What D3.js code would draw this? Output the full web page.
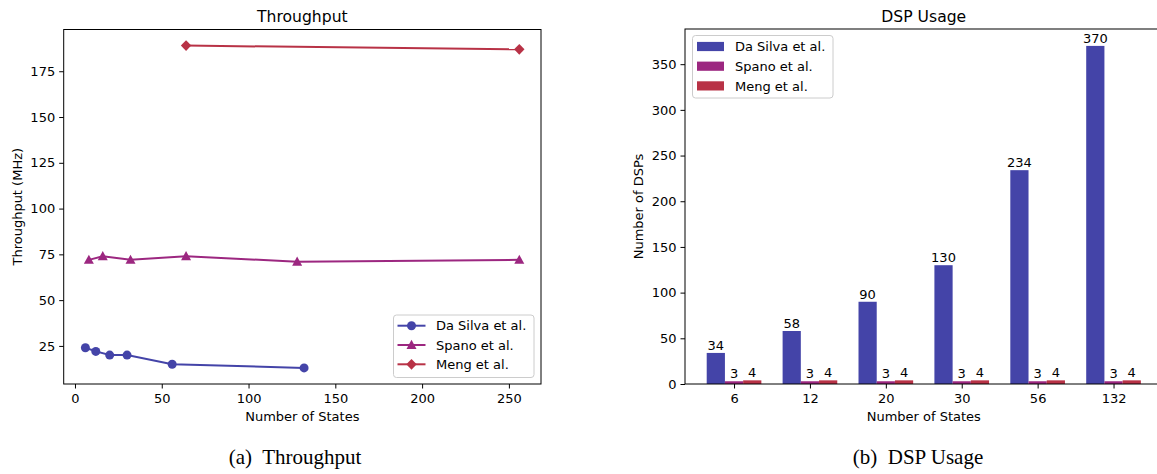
<!DOCTYPE html>
<html><head><meta charset="utf-8">
<script src="https://cdn.jsdelivr.net/npm/d3@7"></script>
<style>
body{margin:0;background:#fff;}
svg{display:block;}
text{font-family:"DejaVu Sans",sans-serif;fill:#000;}
.cap{font-family:"Liberation Serif","Times New Roman",serif;}
</style></head>
<body>
<svg id="c" width="1157" height="474"></svg>
<script>
// ---- data ----
const seriesNames = ["Da Silva et al.", "Spano et al.", "Meng et al."];
const dsStates = [6, 12, 20, 30, 56, 132];
const dsThroughput = [24, 22, 20, 20, 15, 13];
const spStates = [8, 16, 32, 64, 128, 256];
const spThroughput = [72, 74, 72, 74, 71, 72];
const mgStates = [64, 256];
const mgThroughput = [189, 187];
const xTicksLeft = [0, 50, 100, 150, 200, 250];
const yTicksLeft = [25, 50, 75, 100, 125, 150, 175];
const dspCategories = ["6", "12", "20", "30", "56", "132"];
const dsDsp = [34, 58, 90, 130, 234, 370];
const spDsp = [3, 3, 3, 3, 3, 3];
const mgDsp = [4, 4, 4, 4, 4, 4];
const yTicksRight = [0, 50, 100, 150, 200, 250, 300, 350];

const colors = ["#4444a8", "#9c2780", "#b83246"];
const svg = d3.select("#c");

// ---------- Left panel: Throughput ----------
const L = {x0: 63.7, x1: 541, y0: 29.5, y1: 384};
const allX = dsStates.concat(spStates, mgStates), allY = dsThroughput.concat(spThroughput, mgThroughput);
const xmin = d3.min(allX), xmax = d3.max(allX), ymin = d3.min(allY), ymax = d3.max(allY);
const xm = (xmax - xmin) * 0.05, ym = (ymax - ymin) * 0.05;
const xL = d3.scaleLinear().domain([xmin - xm, xmax + xm]).range([L.x0, L.x1]);
const yL = d3.scaleLinear().domain([ymin - ym, ymax + ym]).range([L.y1, L.y0]);

const gl = svg.append("g");
const axB = gl.append("g").attr("transform", `translate(0,${L.y1})`)
  .call(d3.axisBottom(xL).tickValues(xTicksLeft).tickSize(4.5).tickPadding(4));
const axL = gl.append("g").attr("transform", `translate(${L.x0},0)`)
  .call(d3.axisLeft(yL).tickValues(yTicksLeft).tickSize(4.5).tickPadding(4));
[axB, axL].forEach(a => {
  a.select(".domain").remove();
  a.selectAll("text").style("font-family", "DejaVu Sans").style("font-size", "13px").attr("fill", "#000");
  a.selectAll("line").attr("stroke", "#000").attr("stroke-width", 1);
});
axB.selectAll("text").attr("dy", "0.71em").attr("y", 9.5);
axL.selectAll("text").attr("x", -8.5);
gl.append("rect").attr("x", L.x0).attr("y", L.y0).attr("width", L.x1 - L.x0).attr("height", L.y1 - L.y0)
  .attr("fill", "none").attr("stroke", "#000").attr("stroke-width", 1);

const lineSeries = [
  {xs: dsStates, ys: dsThroughput, m: "circle"},
  {xs: spStates, ys: spThroughput, m: "triangle"},
  {xs: mgStates, ys: mgThroughput, m: "diamond"}
];
function marker(g, type, x, y, c) {
  if (type === "circle") g.append("circle").attr("cx", x).attr("cy", y).attr("r", 4.5).attr("fill", c);
  else if (type === "triangle") g.append("path").attr("d", `M${x},${y - 5.2}L${x + 5},${y + 4}L${x - 5},${y + 4}Z`).attr("fill", c);
  else g.append("path").attr("d", `M${x},${y - 5.4}L${x + 5.2},${y}L${x},${y + 5.4}L${x - 5.2},${y}Z`).attr("fill", c);
}
const line = d3.line().x(d => xL(d[0])).y(d => yL(d[1]));
lineSeries.forEach((s, i) => {
  const pts = s.xs.map((x, j) => [x, s.ys[j]]);
  gl.append("path").attr("d", line(pts)).attr("fill", "none").attr("stroke", colors[i]).attr("stroke-width", 2);
  pts.forEach(p => marker(gl, s.m, xL(p[0]), yL(p[1]), colors[i]));
});
const lg = gl.append("g");
lg.append("rect").attr("x", 393.5).attr("y", 315).attr("width", 140.5).attr("height", 62.5).attr("rx", 3)
  .attr("fill", "#fff").attr("fill-opacity", 0.8).attr("stroke", "#cccccc").attr("stroke-width", 1);
seriesNames.forEach((n, i) => {
  const cy = 325.7 + i * 19.3;
  lg.append("line").attr("x1", 397.5).attr("x2", 425.5).attr("y1", cy).attr("y2", cy).attr("stroke", colors[i]).attr("stroke-width", 2);
  marker(lg, lineSeries[i].m, 411.5, cy, colors[i]);
  lg.append("text").attr("x", 436).attr("y", cy + 4.7).style("font-size", "13px").text(n);
});
gl.append("text").attr("x", (L.x0 + L.x1) / 2).attr("y", 21.7).attr("text-anchor", "middle").style("font-size", "15.6px").text("Throughput");
gl.append("text").attr("x", (L.x0 + L.x1) / 2).attr("y", 420.5).attr("text-anchor", "middle").style("font-size", "13px").text("Number of States");
gl.append("text").attr("transform", `translate(22.3,${(L.y0 + L.y1) / 2}) rotate(-90)`).attr("text-anchor", "middle").style("font-size", "13px").text("Throughput (MHz)");

// ---------- Right panel: DSP Usage ----------
const R = {x0: 685, y0: 29, y1: 384};
const w = 0.24;
const n = dspCategories.length;
const spanMargin = ((n - 1) + 3 * w) * 0.05;
const idxDomain = [-1.5 * w - spanMargin, (n - 1) + 1.5 * w + spanMargin];
const unit = 75.9;
const xR = d3.scaleLinear().domain(idxDomain).range([R.x0, R.x0 + (idxDomain[1] - idxDomain[0]) * unit]);
const yR = d3.scaleLinear().domain([0, d3.max(dsDsp) * 1.05]).range([R.y1, R.y0]);
const gr = svg.append("g");
const R_x1 = xR.range()[1];

const axRB = gr.append("g").attr("transform", `translate(0,${R.y1})`)
  .call(d3.axisBottom(xR).tickValues(d3.range(n)).tickFormat(i => dspCategories[i]).tickSize(4.5).tickPadding(4));
const axRL = gr.append("g").attr("transform", `translate(${R.x0},0)`)
  .call(d3.axisLeft(yR).tickValues(yTicksRight).tickSize(4.5).tickPadding(4));
[axRB, axRL].forEach(a => {
  a.select(".domain").remove();
  a.selectAll("text").style("font-family", "DejaVu Sans").style("font-size", "13px").attr("fill", "#000");
  a.selectAll("line").attr("stroke", "#000").attr("stroke-width", 1);
});
axRB.selectAll("text").attr("dy", "0.71em").attr("y", 9.5);
axRL.selectAll("text").attr("x", -8.5);

const barSeries = [dsDsp, spDsp, mgDsp];
barSeries.forEach((vals, s) => {
  vals.forEach((v, i) => {
    const c = i + (s - 1) * w;
    const bx0 = xR(c - w / 2), bx1 = xR(c + w / 2);
    gr.append("rect").attr("x", bx0).attr("y", yR(v)).attr("width", bx1 - bx0).attr("height", yR(0) - yR(v)).attr("fill", colors[s]);
    gr.append("text").attr("x", (bx0 + bx1) / 2).attr("y", yR(v) - 3).attr("text-anchor", "middle").style("font-size", "13px").text(v);
  });
});
gr.append("rect").attr("x", R.x0).attr("y", R.y0).attr("width", R_x1 - R.x0).attr("height", R.y1 - R.y0)
  .attr("fill", "none").attr("stroke", "#000").attr("stroke-width", 1);
const rg = gr.append("g");
rg.append("rect").attr("x", 692.5).attr("y", 35.5).attr("width", 140.5).attr("height", 62.5).attr("rx", 3)
  .attr("fill", "#fff").attr("fill-opacity", 0.8).attr("stroke", "#cccccc").attr("stroke-width", 1);
seriesNames.forEach((nm, i) => {
  const cy = 46.5 + i * 19.7;
  rg.append("rect").attr("x", 697).attr("y", cy - 4.6).attr("width", 27).attr("height", 9.2).attr("fill", colors[i]);
  rg.append("text").attr("x", 735).attr("y", cy + 4.7).style("font-size", "13px").text(nm);
});
const rcx = (R.x0 + R_x1) / 2;
gr.append("text").attr("x", rcx).attr("y", 21.7).attr("text-anchor", "middle").style("font-size", "15.6px").text("DSP Usage");
gr.append("text").attr("x", rcx).attr("y", 420.5).attr("text-anchor", "middle").style("font-size", "13px").text("Number of States");
gr.append("text").attr("transform", `translate(643,${(R.y0 + R.y1) / 2}) rotate(-90)`).attr("text-anchor", "middle").style("font-size", "13px").text("Number of DSPs");

// captions
svg.append("text").attr("class", "cap").attr("x", 295).attr("y", 463.5).attr("text-anchor", "middle").style("font-size", "21px")
  .style("font-family", "Liberation Serif").attr("xml:space", "preserve").text("(a)  Throughput");
svg.append("text").attr("class", "cap").attr("x", 918).attr("y", 463.5).attr("text-anchor", "middle").style("font-size", "21px")
  .style("font-family", "Liberation Serif").attr("xml:space", "preserve").text("(b)  DSP Usage");
</script>
</body></html>
